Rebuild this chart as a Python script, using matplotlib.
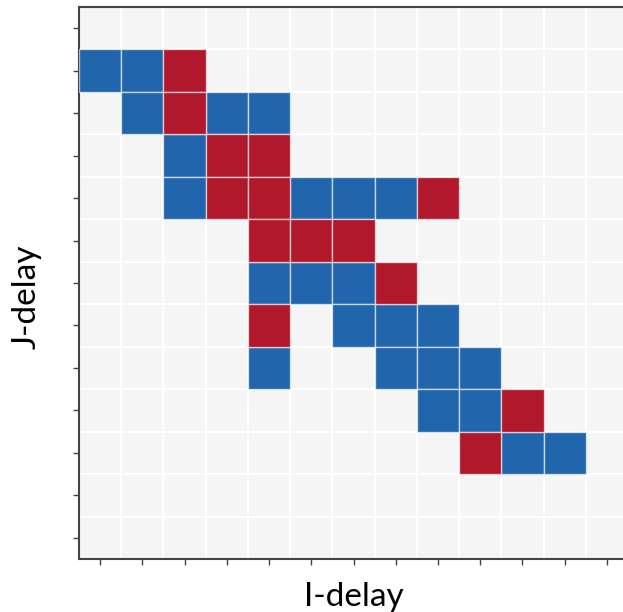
import matplotlib.pyplot as plt

# cells as (I-delay column, J-delay row from top)
blue_i = [0, 1, 1, 3, 4, 2, 2, 5, 6, 7, 4, 5, 6, 6, 7, 8, 4, 7, 8, 9, 8, 9, 10, 11]
blue_j = [1, 1, 2, 2, 2, 3, 4, 4, 4, 4, 6, 6, 6, 7, 7, 7, 8, 8, 8, 8, 9, 9, 10, 10]
red_i = [2, 2, 3, 4, 3, 4, 8, 4, 5, 6, 7, 4, 10, 9]
red_j = [1, 2, 3, 3, 4, 4, 4, 5, 5, 5, 6, 7, 9, 10]
n_cells = 13

blue = '#2166ac'
red = '#b2182b'

fig = plt.figure(figsize=(6.23, 6.12), dpi=100)
ax = fig.add_axes([79 / 623, 53 / 612, 549 / 623, 552 / 612])
ax.set_facecolor('#f5f5f5')

ax.bar(blue_i, 1, width=1, bottom=[j - 0.5 for j in blue_j], color=blue,
       edgecolor=(1, 1, 1, 0.6), linewidth=1, zorder=3)
ax.bar(red_i, 1, width=1, bottom=[j - 0.5 for j in red_j], color=red,
       edgecolor=(1, 1, 1, 0.6), linewidth=1, zorder=3)

ax.set_xlim(-0.5, n_cells - 0.5)
ax.set_ylim(n_cells - 0.5, -0.5)
ax.set_xticks(range(n_cells))
ax.set_yticks(range(n_cells))
ax.set_xticklabels([])
ax.set_yticklabels([])
ax.set_xticks([k - 0.5 for k in range(n_cells + 1)], minor=True)
ax.set_yticks([k - 0.5 for k in range(n_cells + 1)], minor=True)
ax.tick_params(which='minor', length=0)
ax.tick_params(which='major', length=4, width=1, color='#444444')
ax.grid(which='minor', color='white', linewidth=1.5, zorder=1)
ax.set_axisbelow(True)

for s in ax.spines.values():
    s.set_color('#444444')
    s.set_linewidth(1.5)

ax.set_xlabel('I-delay', fontsize=24, family='Lato', va='center')
ax.set_ylabel('J-delay', fontsize=24, family='Lato', va='center')
ax.xaxis.set_label_coords(0.5, -0.069)
ax.yaxis.set_label_coords(-0.095, 0.475)

fig.savefig('out.png', dpi=100)
